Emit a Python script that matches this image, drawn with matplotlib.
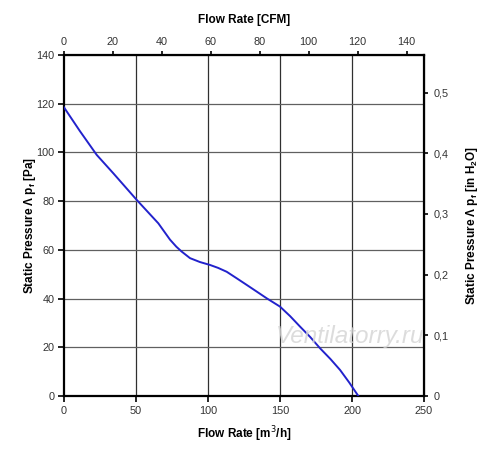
import numpy as np
import matplotlib.pyplot as plt
from matplotlib.ticker import FuncFormatter

# fan curve: flow [m3/h] vs static pressure [Pa]
flow = [0, 11, 22.7, 34.3, 50.5, 65.5, 73.6, 78, 81.7, 87.5, 94.4, 101.4,
        107, 113, 120, 126.9, 134, 140.8, 150, 157, 163.9, 171, 177.8, 185,
        191.7, 198, 204.4]
pressure = [118.5, 108.8, 99, 91.4, 80.5, 70.9, 64.2, 61.3, 59.3, 56.6, 55.0,
            53.8, 52.6, 51.0, 48.3, 45.6, 42.8, 40.1, 36.7, 32.8, 28.5, 24.2,
            19.6, 15.2, 10.7, 5.6, 0]

bottom_ticks = [0, 50, 100, 150, 200, 250]
left_ticks = [0, 20, 40, 60, 80, 100, 120, 140]
top_ticks = [0, 20, 40, 60, 80, 100, 120, 140]
right_ticks = [0, 0.1, 0.2, 0.3, 0.4, 0.5]

M3H_PER_CFM = 1.699
PA_PER_INH2O = 249.09

plt.rcParams['font.family'] = ['Liberation Sans', 'DejaVu Sans']

fig = plt.figure(figsize=(5, 4.73), dpi=100)
ax = fig.add_axes([64 / 500, 1 - 396 / 473, 360 / 500, 341 / 473])

ax.plot(flow, pressure, color='#2222cc', lw=1.4, zorder=3,
        solid_joinstyle='round')

ax.set_xlim(0, 250)
ax.set_ylim(0, 140)
ax.set_xticks(bottom_ticks)
ax.set_yticks(left_ticks)

for v in bottom_ticks[1:-1]:
    ax.axvline(v, color='#303030', lw=0.9, zorder=1)
for v in left_ticks[1:-1]:
    ax.axhline(v, color='#606060', lw=0.9, zorder=1)

for s in ax.spines.values():
    s.set_linewidth(1.6)
    s.set_color('black')

ax.tick_params(direction='out', length=4, width=1.2, labelsize=7.8,
               colors='black', labelcolor='#333333', pad=3)

ax.set_xlabel('Flow Rate [m$^3$/h]', fontsize=8.5, fontweight='bold', labelpad=6)
ax.set_ylabel(r'Static Pressure Λ p$_\mathregular{f}$ [Pa]', fontsize=8.5,
              fontweight='bold', labelpad=-1)

top = ax.secondary_xaxis('top', functions=(lambda q: q / M3H_PER_CFM,
                                            lambda c: c * M3H_PER_CFM))
top.set_xticks(top_ticks)
top.tick_params(direction='out', length=3, width=1.2, labelsize=7.8,
                labelcolor='#333333', pad=3)
top.set_xlabel('Flow Rate [CFM]', fontsize=8.5, fontweight='bold', labelpad=10)

right = ax.secondary_yaxis('right', functions=(lambda p: p / PA_PER_INH2O,
                                               lambda h: h * PA_PER_INH2O))
right.set_yticks(right_ticks)
right.yaxis.set_major_formatter(FuncFormatter(lambda v, pos: f'{v:g}'.replace('.', ',')))
right.tick_params(direction='out', length=3, width=1.2, labelsize=7.8,
                  labelcolor='#333333', pad=4)
right.set_ylabel(r'Static Pressure Λ p$_\mathregular{f}$ [in H$_\mathregular{2}$O]',
                 fontsize=8.5, fontweight='bold', labelpad=11)

# watermark
fig.text(350 / 500, 1 - 337 / 473, 'Ventilatorry.ru', fontsize=17.5, style='italic',
         color='#d4d4d4', alpha=0.8, ha='center', va='center', zorder=5)

fig.savefig('out.png', dpi=100, facecolor='white')
